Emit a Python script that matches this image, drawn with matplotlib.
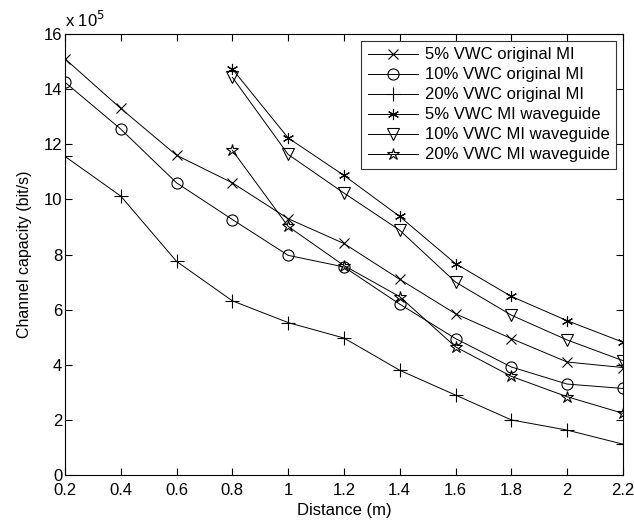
import matplotlib.pyplot as plt
import numpy as np

plt.rcParams['font.family'] = ['Liberation Sans', 'DejaVu Sans']

# distances (m)
dist_orig = [0.2, 0.4, 0.6, 0.8, 1.0, 1.2, 1.4, 1.6, 1.8, 2.0, 2.2]
dist_wg = [0.8, 1.0, 1.2, 1.4, 1.6, 1.8, 2.0, 2.2]

# channel capacity in units of 1e5 bit/s
vwc5_orig = [15.1, 13.3, 11.6, 10.6, 9.3, 8.4, 7.1, 5.85, 4.95, 4.1, 3.9]
vwc10_orig = [14.25, 12.55, 10.6, 9.27, 7.97, 7.55, 6.2, 4.95, 3.92, 3.3, 3.14]
vwc20_orig = [11.56, 10.12, 7.75, 6.32, 5.53, 4.97, 3.8, 2.9, 2.0, 1.63, 1.12]
vwc5_wg = [14.73, 12.23, 10.87, 9.38, 7.67, 6.48, 5.6, 4.82]
vwc10_wg = [14.43, 11.63, 10.23, 8.88, 7.0, 5.8, 4.9, 4.15]
vwc20_wg = [11.78, 9.02, 7.6, 6.47, 4.65, 3.58, 2.84, 2.24]

labels = ['5% VWC original MI', '10% VWC original MI', '20% VWC original MI',
          '5% VWC MI waveguide', '10% VWC MI waveguide', '20% VWC MI waveguide']

fig = plt.figure(figsize=(6.34, 5.25), dpi=100)
ax = fig.add_axes([0.1025, 0.0952, 0.88, 0.84])

kw = dict(color='black', linewidth=0.7, markeredgewidth=0.8)
ax.plot(dist_orig, vwc5_orig, marker='x', markersize=7, label=labels[0], **kw)
ax.plot(dist_orig, vwc10_orig, marker='o', mfc='none', markersize=8, label=labels[1], **kw)
ax.plot(dist_orig, vwc20_orig, marker='+', markersize=10, label=labels[2], **kw)
ax.plot(dist_wg, vwc5_wg, marker=(6, 2, 0), markersize=8, label=labels[3], **kw)
ax.plot(dist_wg, vwc10_wg, marker='v', mfc='none', markersize=9, label=labels[4], **kw)
ax.plot(dist_wg, vwc20_wg, marker='*', mfc='none', markersize=9, label=labels[5], **kw)

ax.set_xlim(0.2, 2.2)
ax.set_ylim(0, 16)
ax.set_xticks(np.arange(0.2, 2.21, 0.2))
ax.set_xticklabels(['0.2', '0.4', '0.6', '0.8', '1', '1.2', '1.4', '1.6', '1.8', '2', '2.2'])
ax.set_yticks(np.arange(0, 17, 2))
ax.tick_params(direction='in', top=True, right=True, labelsize=12, length=5, width=0.8)
ax.tick_params(axis='x', pad=6)
ax.tick_params(axis='y', pad=2)
for s in ax.spines.values():
    s.set_linewidth(0.8)

ax.set_xlabel('Distance (m)', fontsize=12, labelpad=3)
ax.set_ylabel('Channel capacity (bit/s)', fontsize=11.5, labelpad=8)
ax.text(0.0, 1.01, r'x 10$^5$', transform=ax.transAxes, fontsize=12,
        ha='left', va='bottom')

leg = ax.legend(loc='upper right', fontsize=12, frameon=True, fancybox=False,
                edgecolor='black', borderaxespad=0.4, handlelength=3,
                labelspacing=0.3, borderpad=0.4, handletextpad=0.4)
leg.get_frame().set_linewidth(0.8)

fig.savefig('out.png', dpi=100)
